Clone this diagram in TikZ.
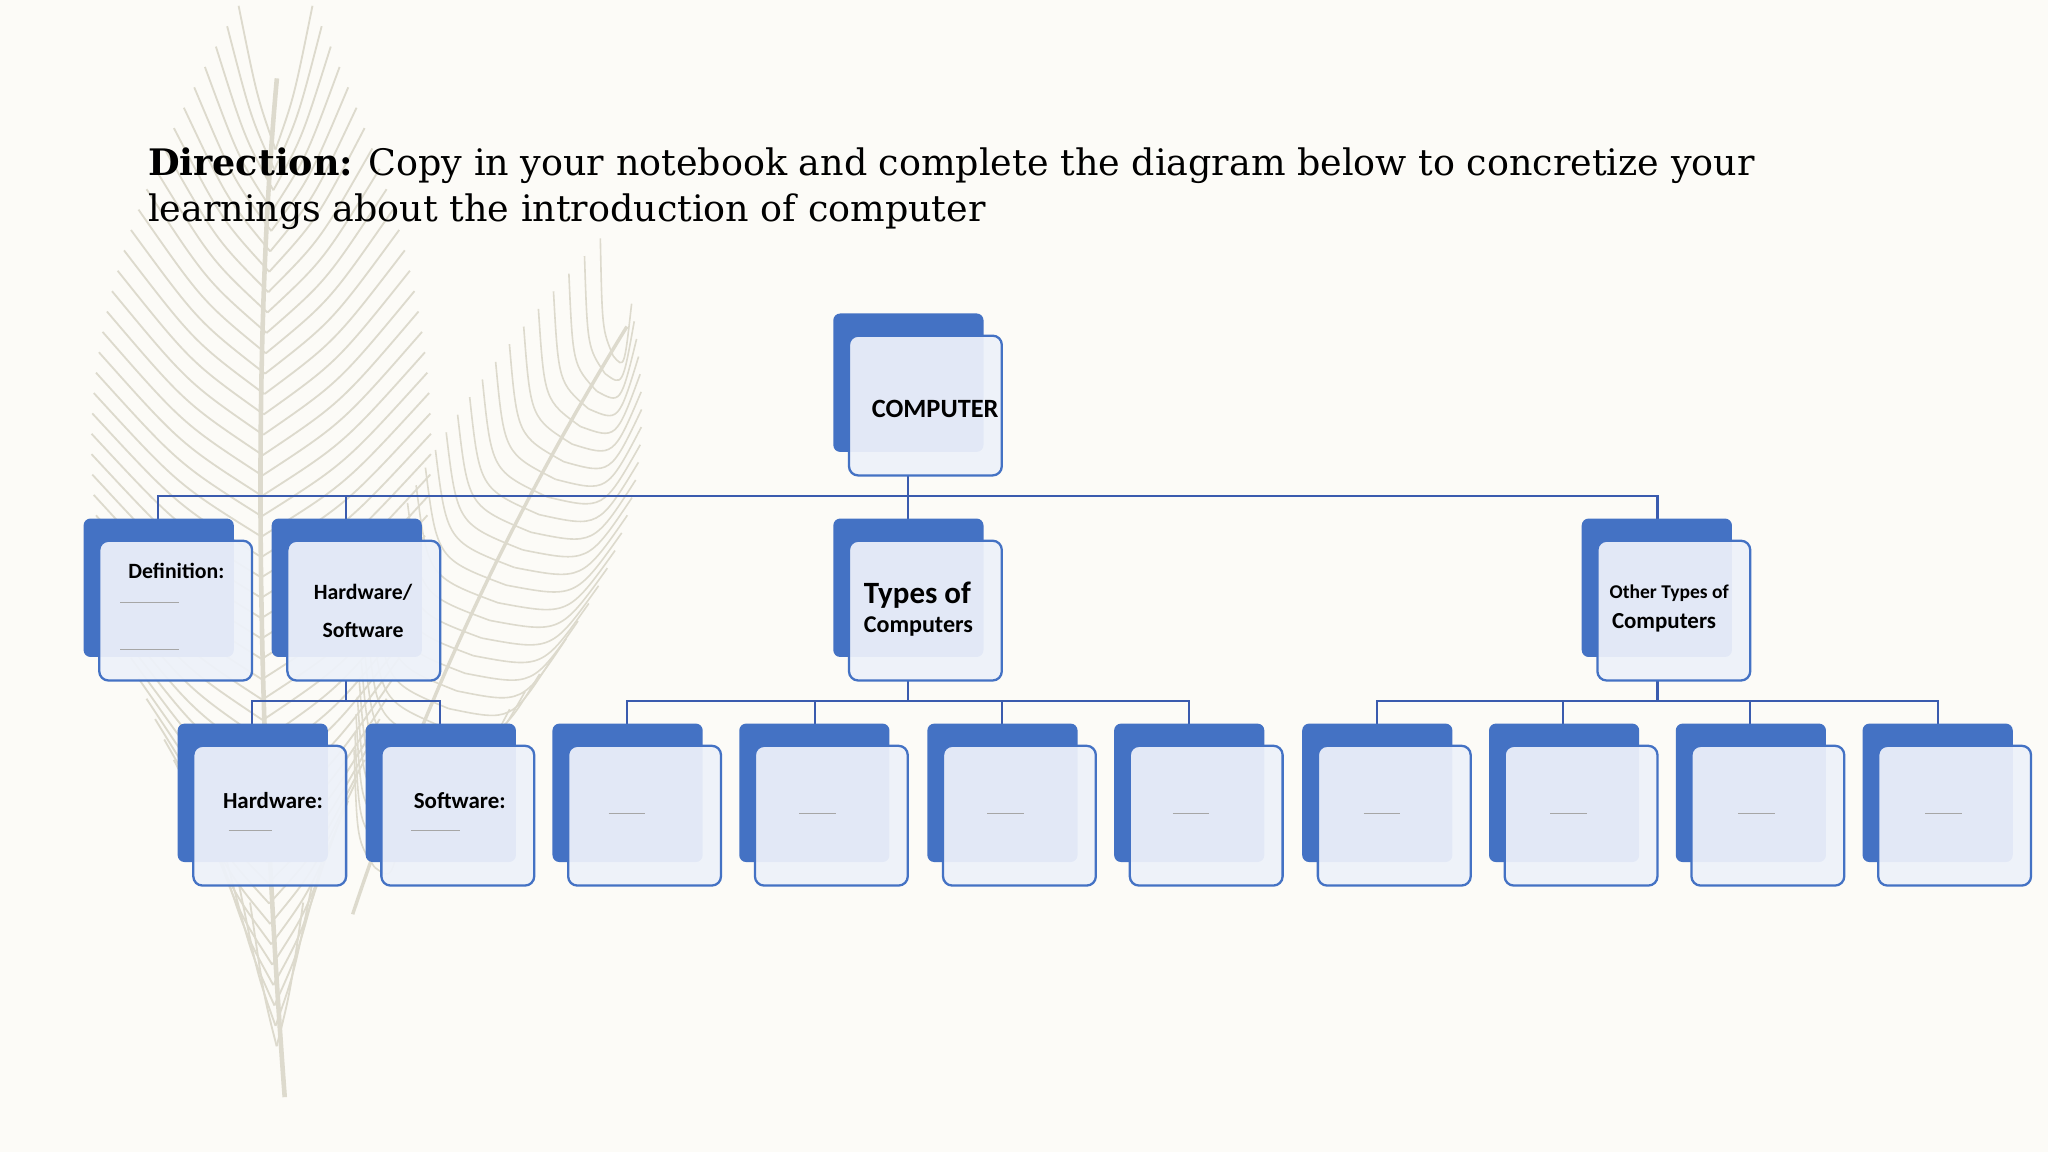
\documentclass[tikz,border=0pt]{standalone}
\usepackage{fontspec}
\newfontfamily\cardfont{Carlito}
\newfontfamily\titlefont{DejaVu Serif}
\begin{document}
\begin{tikzpicture}[x=0.02cm,y=-0.02cm,
  conn/.style={draw=connblue, line width=0.9pt},
  backcard/.style={fill=cardblue, rounded corners=3pt},
  frontcard/.style={draw=cardblue, line width=1pt, fill=cardfront, fill opacity=0.93, rounded corners=4pt},
  lbl/.style={font=\cardfont\bfseries, text=black, align=center},
  blank/.style={draw=gray!70, line width=0.5pt}]
\definecolor{cardblue}{HTML}{4472C4}
\definecolor{connblue}{HTML}{3A5BAE}
\definecolor{cardfront}{HTML}{EEF2FA}
\definecolor{bg}{HTML}{FCFBF7}
\definecolor{feather}{HTML}{DDDACD}
\fill[bg] (0,0) rectangle (1568,882);
\useasboundingbox (0,0) rectangle (1568,882);
% feathers
\draw[feather, line width=2pt] (218,840) .. controls (200,600) and (190,300) .. (212,60);
\foreach \t in {0.05,0.07,...,0.95}{
  \pgfmathsetmacro{\yy}{840-780*\t}
  \pgfmathsetmacro{\xx}{214-14*sin(180*\t)}
  \pgfmathsetmacro{\w}{130*sin(180*\t)}
  \draw[feather, line width=0.8pt] (\xx,\yy) .. controls (\xx-0.5*\w,\yy-40) .. (\xx-\w,\yy-110);
  \draw[feather, line width=0.8pt] (\xx,\yy) .. controls (\xx+0.5*\w,\yy-40) .. (\xx+\w,\yy-110);
}
\draw[feather, line width=1.5pt] (270,700) .. controls (330,520) and (400,380) .. (480,250);
\foreach \t in {0.08,0.11,...,0.95}{
  \pgfmathsetmacro{\yy}{700-450*\t}
  \pgfmathsetmacro{\xx}{270+210*\t}
  \pgfmathsetmacro{\w}{90*sin(180*\t)}
  \draw[feather, line width=0.7pt] (\xx,\yy) .. controls (\xx-0.6*\w,\yy-20) .. (\xx-0.7*\w,\yy-90);
  \draw[feather, line width=0.7pt] (\xx,\yy) .. controls (\xx+0.6*\w,\yy+10) .. (\xx+\w,\yy-40);
}
% title
\node[anchor=north west, align=left, font=\titlefont\fontsize{15.9}{20}\selectfont, inner sep=0] (title) at (113,113)
 {\textbf{Direction:} Copy in your notebook and complete the diagram below to concretize your\\ learnings about the introduction of computer};
% connectors
\coordinate (c1) at (695,364); \coordinate (c1b) at (695,380);
\draw[conn] (121,397) -- (121,380) -- (1269,380) -- (1269,397);
\draw[conn] (c1) -- (c1b) -- (695,397);
\draw[conn] (265,380) -- (265,397);
\draw[conn] (265,521) -- (265,537);
\draw[conn] (193,554) -- (193,537) -- (337,537) -- (337,554);
\draw[conn] (695,521) -- (695,537);
\draw[conn] (480,554) -- (480,537) -- (910,537) -- (910,554);
\foreach \x in {624,767} \draw[conn] (\x,537) -- (\x,554);
\draw[conn] (1269,521) -- (1269,537);
\draw[conn] (1054,554) -- (1054,537) -- (1484,537) -- (1484,554);
\foreach \x in {1197,1340} \draw[conn] (\x,537) -- (\x,554);
% cards
\newcommand{\mycard}[2]{% x of back, y of back
  \fill[backcard] (#1,#2) rectangle ++(115,106);
  \filldraw[frontcard] (#1+12,#2+17) rectangle ++(117,107);}
\mycard{638}{240}
\mycard{64}{397}\mycard{208}{397}\mycard{638}{397}\mycard{1211}{397}
\foreach \x in {136,280,423,566,710,853,997,1140,1283,1426}{\mycard{\x}{554}}
% labels
\node[lbl, font=\cardfont\bfseries\fontsize{11.5}{13}\selectfont] (comp) at (716,313) {COMPUTER};
\node[lbl, font=\cardfont\bfseries\fontsize{9.5}{12}\selectfont] (def) at (135,437) {Definition:};
\draw[blank] (92,461) -- (137,461); \draw[blank] (92,497) -- (137,497);
\node[lbl, font=\cardfont\bfseries\fontsize{9.5}{16.5}\selectfont] (hs) at (278,468) {Hardware/\\Software};
\node[lbl, font=\cardfont\bfseries\fontsize{13.5}{16}\selectfont, anchor=west, inner sep=0] (types) at (661,456) {Types of};
\node[lbl, font=\cardfont\bfseries\fontsize{10.5}{12}\selectfont, anchor=west, inner sep=0] (types2) at (661,480) {Computers};
\node[lbl, font=\cardfont\bfseries\fontsize{8.5}{10}\selectfont] (oth) at (1278,454) {Other Types of};
\node[lbl, font=\cardfont\bfseries\fontsize{10}{12}\selectfont] (oth2) at (1274,477) {Computers};
\node[lbl, font=\cardfont\bfseries\fontsize{10}{12}\selectfont] (hw) at (209,613) {Hardware:};
\draw[blank] (175,636) -- (208,636);
\node[lbl, font=\cardfont\bfseries\fontsize{10}{12}\selectfont] (sw) at (352,613) {Software:};
\draw[blank] (315,636) -- (352,636);
\foreach \x in {480,626,770,912,1058,1201,1345,1488}{\draw[blank] (\x-14,623) -- (\x+14,623);}
\end{tikzpicture}
\end{document}
